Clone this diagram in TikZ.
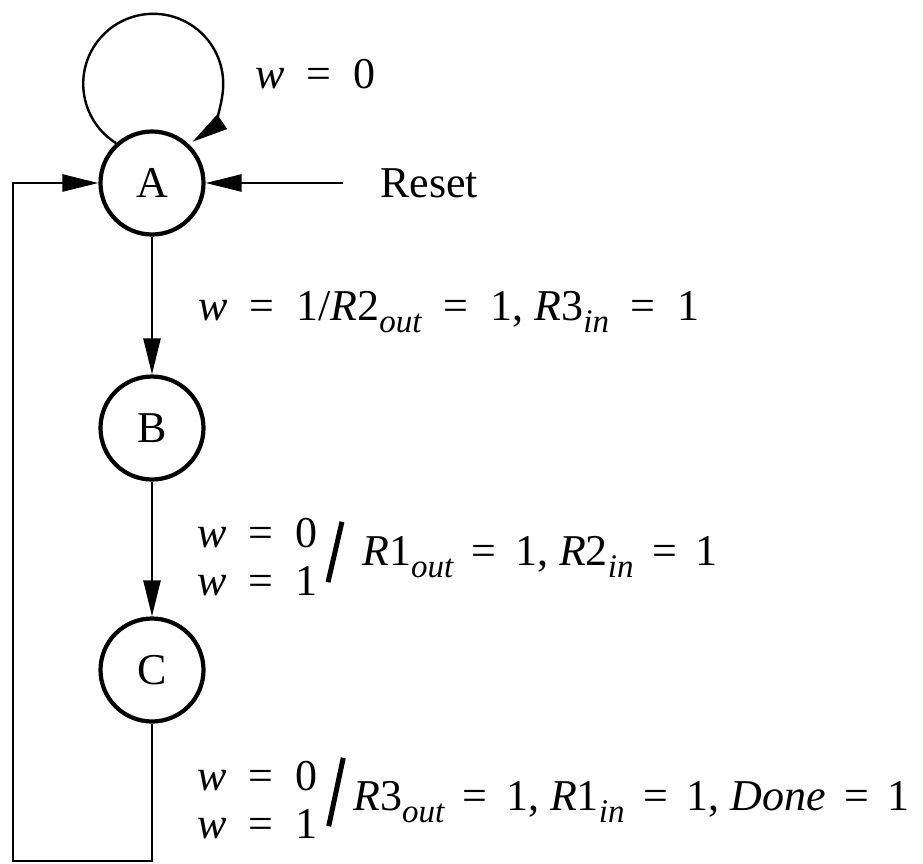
\documentclass[tikz,border=0pt]{standalone}
\usepackage{fontspec}
\usepackage{graphicx}
\setmainfont{Liberation Serif}
\usetikzlibrary{arrows.meta}
\newcommand{\iv}[1]{\textit{#1}}
\newcommand{\lsub}[1]{\raisebox{-0.28em}{\fontsize{33}{33}\selectfont\itshape #1}}
\newcommand{\eq}{\hspace{0.42em}=\hspace{0.42em}}
\newcommand{\weq}{\hspace{0.5em}=\hspace{0.5em}}
\begin{document}
\begin{tikzpicture}[x=1pt,y=-1pt,
  state/.style={circle,draw,line width=4.2pt,minimum size=103pt,inner sep=0pt,font=\fontsize{44}{48}\selectfont},
  conn/.style={line width=2.4pt,-{Triangle[length=36pt,width=17pt]}},
  lbl/.style={anchor=base west,inner sep=0pt,font=\fontsize{44}{48}\selectfont},
  slash/.style={inner sep=0pt,anchor=center}]
\useasboundingbox[fill=white] (0,0) rectangle (923,863);
\node[state] (A) at (152,183) {A};
\node[state] (B) at (152,428) {B};
\node[state] (C) at (152,670) {C};
\node[lbl] (reset) at (380,197) {Reset};
\coordinate (rs) at (343,183);
\coordinate (cb) at (152,861);
\coordinate (lb) at (13,861);
\coordinate (lt) at (13,183);
% self loop
\draw[conn] (A.132) arc[start angle=122,end angle=416,radius=70];
% reset
\draw[conn] (rs) -- (A.east);
% A->B, B->C
\draw[conn] (A.south) -- (B.north);
\draw[conn] (B.south) -- (C.north);
% C back to A
\draw[conn] (C.south) -- (cb) -- (lb) -- (lt) -- (A.west);
% labels
\node[lbl] (l0) at (255,88) {\iv{w}\weq 0};
\node[lbl] (l1) at (198,320) {\iv{w}\weq 1/\iv{R}2\lsub{out}\weq 1, \iv{R}3\lsub{in}\weq 1};
% B -> C label
\node[lbl] (l2a) at (197,547) {\iv{w}\weq 0};
\node[lbl] (l2b) at (197,595) {\iv{w}\weq 1};
\node[slash] (l2s) at (335,552) {\rotatebox{-13}{\rule{5pt}{62pt}}};
\node[lbl] (l2) at (362,565) {\iv{R}1\lsub{out}\eq 1, \iv{R}2\lsub{in}\eq 1};
% C -> A label
\node[lbl] (l3a) at (197,790) {\iv{w}\weq 0};
\node[lbl] (l3b) at (197,838) {\iv{w}\weq 1};
\node[slash] (l3s) at (336,792) {\rotatebox{-12}{\rule{5pt}{70pt}}};
\node[lbl] (l3) at (353,810) {\iv{R}3\lsub{out}\eq 1, \iv{R}1\lsub{in}\eq 1, \iv{Done}\eq 1};
\end{tikzpicture}
\end{document}
